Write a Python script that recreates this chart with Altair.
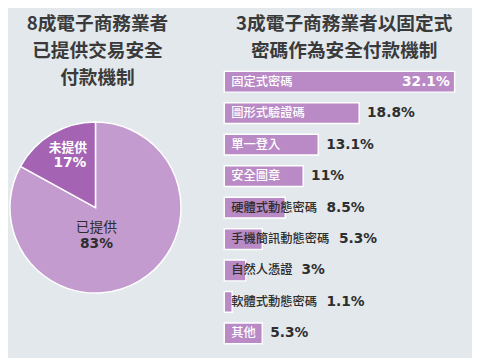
import altair as alt
import pandas as pd

# ---- data ----
left_title = ["8成電子商務業者", "已提供交易安全", "付款機制"]
right_title = ["3成電子商務業者以固定式", "密碼作為安全付款機制"]

pie_status = ["已提供", "未提供"]
pie_pct = [83, 17]
pie_pct_labels = ["83%", "17%"]

methods = ["固定式密碼", "圖形式驗證碼", "單一登入", "安全圖章", "硬體式動態密碼",
           "手機簡訊動態密碼", "自然人憑證", "軟體式動態密碼", "其他"]
shares = [32.1, 18.8, 13.1, 11, 8.5, 5.3, 3, 1.1, 5.3]
share_labels = ["32.1%", "18.8%", "13.1%", "11%", "8.5%", "5.3%", "3%", "1.1%", "5.3%"]

# ---- styling / layout constants ----
BG = "#e2e8ec"
BAR = "#b98ac6"
PIE_LIGHT = "#c49bcf"
PIE_DARK = "#a563b4"
DARK = "#2e2e2e"
CJK = "Noto Sans CJK TC"
NUM = "DejaVu Sans"
PX = 7.3          # pixels per percentage point
X0 = 220          # bar baseline (chart px)
CHAR_PX = 12.7    # width of one label character
LABEL_PAD = 7
GAP = 8
VALUE_PX = 50

bars = pd.DataFrame({"method": methods, "share": shares, "label": share_labels})
bars["start"] = 0.0
bars["label_px"] = LABEL_PAD + bars["method"].str.len() * CHAR_PX
bars["fits"] = bars["label_px"] < bars["share"] * PX - 3
bars["inside"] = bars["share"] * PX - bars["label_px"] - VALUE_PX > 20
bars["vx"] = [max(s, lp / PX) + GAP / PX for s, lp in zip(bars["share"], bars["label_px"])]

xs = alt.Scale(domain=[0, 35], range=[X0, X0 + 35 * PX])
ys = alt.Scale(range=[56, 344], paddingInner=0.34, paddingOuter=0.17)
Y = alt.Y("method:N", sort=methods, scale=ys, axis=None)

bar_layer = alt.Chart(bars).mark_bar(color=BAR, stroke="white", strokeWidth=1.5).encode(
    x=alt.X("share:Q", scale=xs, axis=None), x2=alt.X2("start:Q"), y=Y)

name_layer = alt.Chart(bars).mark_text(align="left", baseline="middle", dx=LABEL_PAD,
                                       font=CJK, fontSize=12.5, fontWeight=500).encode(
    x=alt.X("start:Q", scale=xs, axis=None), y=Y, text="method:N",
    color=alt.condition("datum.fits", alt.value("white"), alt.value(DARK)))

val_in = alt.Chart(bars).transform_filter("datum.inside").mark_text(
    align="right", baseline="middle", dx=-5, font=NUM, fontSize=14, fontWeight="bold",
    color="white").encode(x=alt.X("share:Q", scale=xs, axis=None), y=Y, text="label:N")

val_out = alt.Chart(bars).transform_filter("!datum.inside").mark_text(
    align="left", baseline="middle", font=NUM, fontSize=14, fontWeight="bold",
    color=DARK).encode(x=alt.X("vx:Q", scale=xs, axis=None), y=Y, text="label:N")

# ---- pie ----
pie = pd.DataFrame({"status": pie_status, "pct": pie_pct, "plabel": pie_pct_labels})
pie["ord"] = range(len(pie))
CX, CY = 89, 200
pie_layer = alt.Chart(pie).mark_arc(radius=87, stroke="white", strokeWidth=1.5).encode(
    theta=alt.Theta("pct:Q", stack=True),
    order=alt.Order("ord:Q"),
    x=alt.value(CX), y=alt.value(CY),
    fill=alt.condition("datum.status == '未提供'", alt.value(PIE_DARK), alt.value(PIE_LIGHT)))

layers = [pie_layer, bar_layer, name_layer, val_in, val_out]

def pie_text(status, field, x, y, size, color, weight, font):
    return alt.Chart(pie).transform_filter(f"datum.status == '{status}'").mark_text(
        align="center", baseline="middle", font=font, fontSize=size,
        fontWeight=weight, color=color).encode(
        x=alt.value(x), y=alt.value(y), text=f"{field}:N")

layers += [
    pie_text("未提供", "status", 61, 139, 13, "white", "bold", CJK),
    pie_text("未提供", "plabel", 63, 155, 14, "white", "bold", NUM),
    pie_text("已提供", "status", 90, 221, 14, DARK, "normal", CJK),
    pie_text("已提供", "plabel", 90, 237, 14, DARK, "bold", NUM),
]

# ---- titles (one multi-line text each) ----
def title_block(lines, x, y):
    return alt.Chart(pd.DataFrame({"t": ["\n".join(lines)]})).mark_text(
        align="center", baseline="alphabetic", font=CJK, fontSize=19, fontWeight="bold",
        lineBreak="\n", lineHeight=27.6, color="#3a3a3a").encode(
        x=alt.value(x), y=alt.value(y), text="t:N")

layers.append(title_block(left_title, 91, 19.5))
layers.append(title_block(right_title, 342, 19.3))

chart = alt.layer(*layers).properties(
    width=472, height=350, background=BG,
    autosize=alt.AutoSizeParams(type="none"), padding=0,
).configure_view(stroke=None)

chart.save("out.html", embed_options={"renderer": "svg", "actions": False})
